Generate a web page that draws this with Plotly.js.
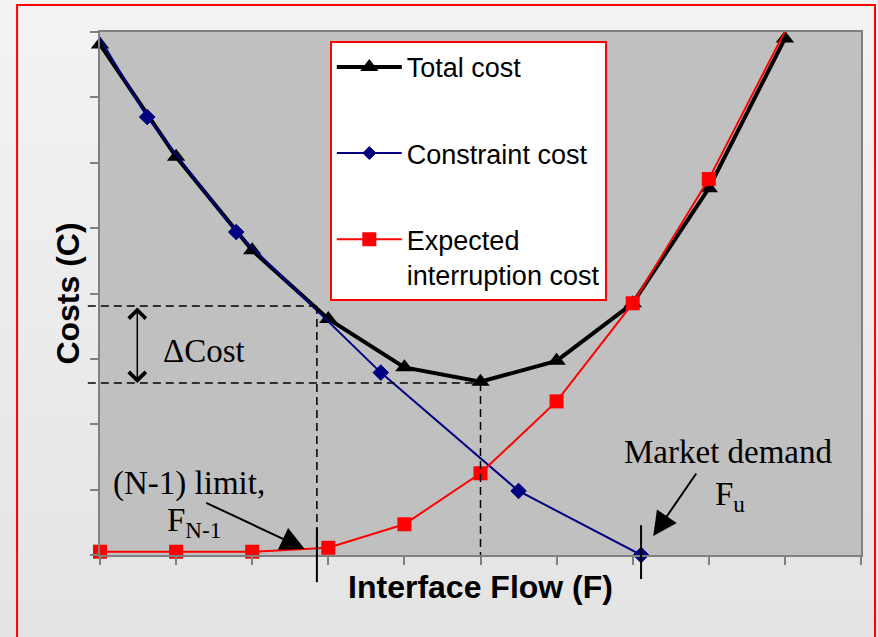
<!DOCTYPE html>
<html><head><meta charset="utf-8">
<script src="https://cdn.plot.ly/plotly-3.0.1.min.js"></script>
<style>
html,body{margin:0;padding:0;}
body{width:878px;height:637px;background:linear-gradient(#f3f3f3,#e4e4e4);overflow:hidden;}
#chart{width:878px;height:637px;}
</style></head><body><div id="chart"></div>
<script>
// ---- data ----
const flow = [0, 1, 2, 3, 4, 5, 6, 7, 8, 9];
const totalCost = [7.81, 6.09, 4.66, 3.61, 2.87, 2.65, 2.97, 3.85, 5.61, 7.90];
const constraintFlow = [-0.1, 0.62, 1.79, 3.69, 5.5, 7.11];
const constraintCost = [8.09, 6.70, 4.94, 2.79, 0.98, 0.0];
const interruptionCost = [0.05, 0.05, 0.05, 0.11, 0.47, 1.25, 2.35, 3.85, 5.75, 8.01];
const seriesNames = ['Total cost', 'Constraint cost', 'Expected<br>interruption cost'];
const n1Limit = 2.85;       // F_N-1
const marketDemand = 7.11;  // F_u
const costAtLimit = 3.81;
const minCost = 2.63;
const flowAtMin = 5;
const xRange = [0, 10];
const yRange = [0, 8];

const sans = 'Arial, "Liberation Sans", sans-serif';
const serif = '"Times New Roman", "Liberation Serif", serif';
const px = v => (v - xRange[0]) / (xRange[1] - xRange[0]);

const traces = [
  {x: flow, y: totalCost, name: seriesNames[0], legendgroup: 'a', mode: 'lines+markers', cliponaxis: false,
   line: {color: '#000000', width: 4}, marker: {symbol: 'triangle-up', size: 16, color: '#000000', line: {width: 0}}},
  {x: constraintFlow, y: constraintCost, name: seriesNames[1], legendgroup: 'b', mode: 'lines+markers', cliponaxis: false,
   line: {color: '#000080', width: 2},
   marker: {symbol: 'diamond', size: constraintFlow.map((v, i) => i === 0 ? 0 : 12), color: '#000080',
            opacity: 1, line: {width: 1, color: '#000080'}}},
  {x: flow, y: interruptionCost, name: seriesNames[2], legendgroup: 'c', mode: 'lines+markers', cliponaxis: false,
   line: {color: '#ff0000', width: 2}, marker: {symbol: 'square', size: 14, color: '#ff0000', line: {width: 0}}}
];

const dash = '8px,5px';
const shapes = [
  {type: 'rect', xref: 'paper', yref: 'paper', x0: -0.109, x1: 1.0184, y0: -0.25, y1: 1.0516,
   line: {color: '#ff0000', width: 2}, fillcolor: 'rgba(0,0,0,0)', layer: 'below'},
  {type: 'line', xref: 'paper', yref: 'y', x0: -0.016, x1: px(n1Limit), y0: costAtLimit, y1: costAtLimit,
   line: {color: '#000', width: 1.5, dash: dash}},
  {type: 'line', xref: 'x', yref: 'y', x0: n1Limit, x1: n1Limit, y0: costAtLimit, y1: 0,
   line: {color: '#000', width: 1.5, dash: dash}},
  {type: 'line', xref: 'paper', yref: 'y', x0: -0.016, x1: px(flowAtMin), y0: minCost, y1: minCost,
   line: {color: '#000', width: 1.5, dash: dash}},
  {type: 'line', xref: 'x', yref: 'y', x0: flowAtMin, x1: flowAtMin, y0: minCost, y1: 0,
   line: {color: '#000', width: 1.5, dash: dash}},
  {type: 'line', xref: 'x', yref: 'paper', x0: n1Limit, x1: n1Limit, y0: 0.052, y1: -0.052,
   line: {color: '#000', width: 2}},
  {type: 'line', xref: 'x', yref: 'paper', x0: marketDemand, x1: marketDemand, y0: 0.057, y1: -0.046,
   line: {color: '#000', width: 2}}
];

const tf = size => ({family: serif, size: size, color: '#000'});
const annotations = [
  {xref: 'x', yref: 'y', axref: 'x', ayref: 'y', x: 0.49, y: minCost, ax: 0.49, ay: costAtLimit,
   text: '', showarrow: true, arrowside: 'end+start', arrowhead: 4, startarrowhead: 4,
   arrowsize: 2.2, startarrowsize: 2.2, arrowwidth: 1.5, arrowcolor: '#000'},
  {xref: 'x', yref: 'y', x: 0.8, y: 3.12, xanchor: 'left', yanchor: 'middle', showarrow: false,
   text: 'ΔCost', font: tf(33)},
  {xref: 'x', yref: 'y', x: 0.14, y: 1.09, xanchor: 'left', yanchor: 'middle', showarrow: false,
   text: '(N-1) limit,', font: tf(33)},
  {xref: 'x', yref: 'y', x: 0.85, y: 0.5, xanchor: 'left', yanchor: 'middle', showarrow: false,
   text: 'F<sub>N-1</sub>', font: tf(33)},
  {xref: 'x', yref: 'y', x: 2.69, y: 0.09, ax: -100, ay: -47, text: '', showarrow: true,
   arrowhead: 2, arrowsize: 2.4, arrowwidth: 2, arrowcolor: '#000'},
  {xref: 'x', yref: 'y', x: 6.86, y: 1.575, xanchor: 'left', yanchor: 'middle', showarrow: false,
   text: 'Market demand', font: tf(33)},
  {xref: 'x', yref: 'y', x: 8.06, y: 0.9, xanchor: 'left', yanchor: 'middle', showarrow: false,
   text: 'F<sub>u</sub>', font: tf(33)},
  {xref: 'x', yref: 'y', x: 7.27, y: 0.29, ax: 44, ay: -64, text: '', showarrow: true,
   arrowhead: 2, arrowsize: 2.4, arrowwidth: 2, arrowcolor: '#000'}
];

const axisCommon = {
  dtick: 1, ticks: 'outside', ticklen: 8, tickwidth: 2, tickcolor: '#808080',
  showticklabels: false, showgrid: false, zeroline: false,
  showline: true, linecolor: '#808080', linewidth: 2, mirror: true, fixedrange: true
};

const layout = {
  width: 878, height: 637,
  margin: {l: 100, r: 17, t: 32, b: 82},
  paper_bgcolor: 'rgba(0,0,0,0)', plot_bgcolor: '#c0c0c0',
  xaxis: Object.assign({}, axisCommon, {range: xRange, tick0: 0,
    title: {text: 'Interface Flow (F)', standoff: 12, font: {family: sans, size: 32, color: '#000', weight: 'bold'}}}),
  yaxis: Object.assign({}, axisCommon, {range: yRange, tick0: 0,
    title: {text: 'Costs (C)', standoff: 1, font: {family: sans, size: 32, color: '#000', weight: 'bold'}}}),
  showlegend: true,
  legend: {x: 0.302, y: 0.983, xanchor: 'left', yanchor: 'top', bgcolor: '#ffffff',
    bordercolor: '#ff0000', borderwidth: 2, font: {family: sans, size: 27, color: '#000'},
    traceorder: 'grouped', tracegroupgap: 48, itemwidth: 65, valign: 'top'},
  shapes: shapes,
  annotations: annotations
};

Plotly.newPlot('chart', traces, layout, {displayModeBar: false, staticPlot: true});
</script></body></html>
